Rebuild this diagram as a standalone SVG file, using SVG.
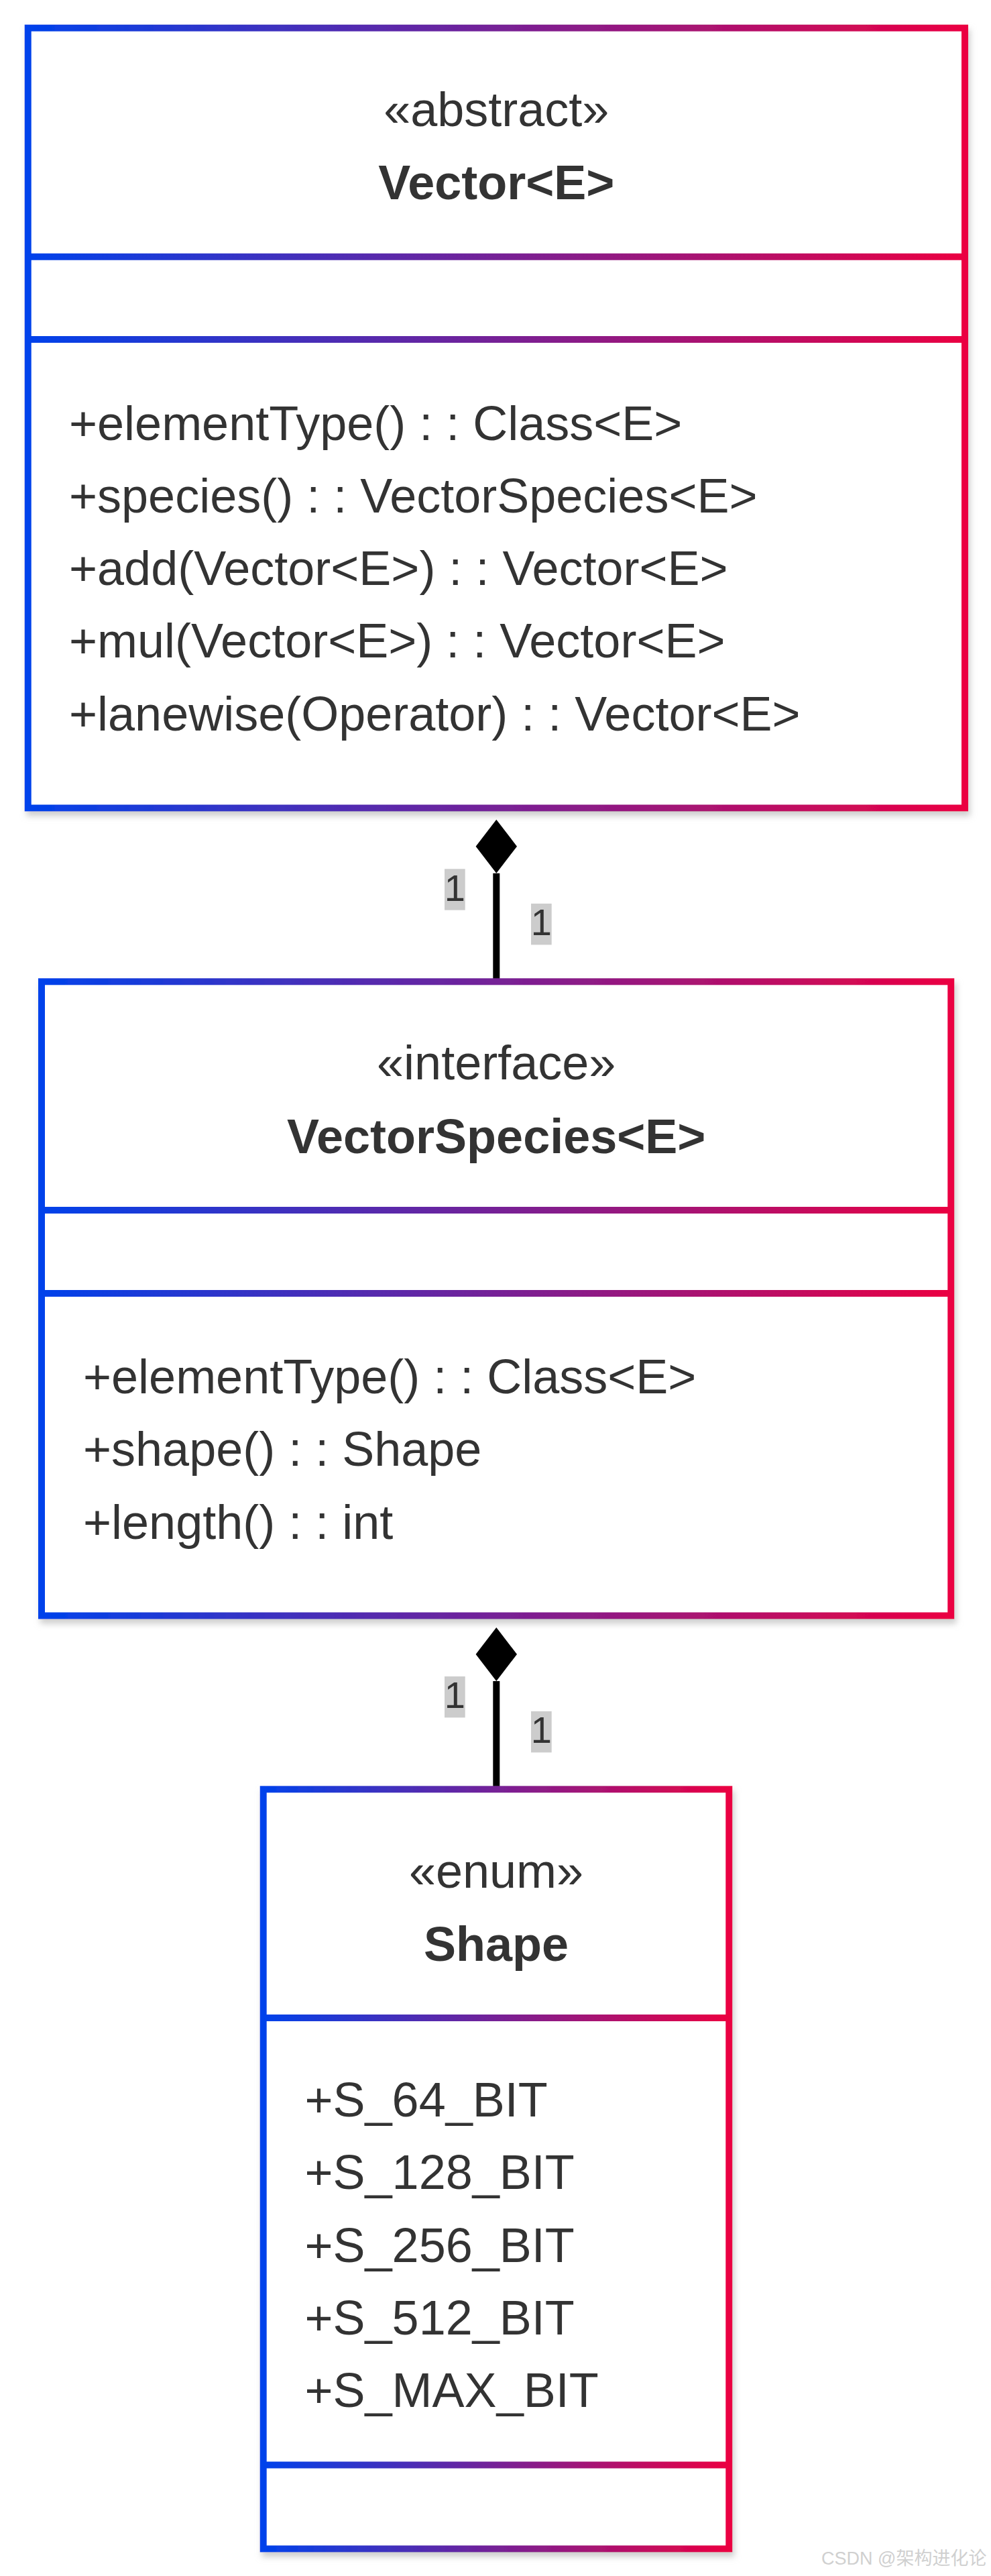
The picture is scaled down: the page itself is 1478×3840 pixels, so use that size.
<svg xmlns="http://www.w3.org/2000/svg" width="1478" height="3840" viewBox="0 0 1478 3840">
  <style>
    .box { fill: #ffffff; stroke-width: 10; filter: url(#sh); }
    .div { stroke-width: 10; fill: none; }
    .t { font-family: "Liberation Sans", Arial, Helvetica, sans-serif; font-size: 72px; fill: #333333; }
    .c { text-anchor: middle; }
    .b { font-weight: bold; }
    .edge { stroke: #000000; stroke-width: 10; fill: none; }
    .lblbg { fill: #cccccc; }
    .lbl { font-family: "Liberation Sans", Arial, Helvetica, sans-serif; font-size: 56px; fill: #333333; text-anchor: middle; }
    .wm { font-family: "Liberation Sans", Arial, "Noto Sans CJK SC", sans-serif; font-size: 27px; fill: #d0d0d0; }
  </style>
  <defs>
    <linearGradient id="g1" gradientUnits="userSpaceOnUse" x1="41.7" y1="0" x2="1439" y2="0">
      <stop offset="0" stop-color="#0042eb"/>
      <stop offset="1" stop-color="#eb0042"/>
    </linearGradient>
    <linearGradient id="g2" gradientUnits="userSpaceOnUse" x1="62" y1="0" x2="1418.3" y2="0">
      <stop offset="0" stop-color="#0042eb"/>
      <stop offset="1" stop-color="#eb0042"/>
    </linearGradient>
    <linearGradient id="g3" gradientUnits="userSpaceOnUse" x1="392.7" y1="0" x2="1087.3" y2="0">
      <stop offset="0" stop-color="#0042eb"/>
      <stop offset="1" stop-color="#eb0042"/>
    </linearGradient>
    <filter id="sh" x="-5%" y="-5%" width="110%" height="110%">
      <feDropShadow dx="3" dy="7" stdDeviation="5" flood-color="#b9b9b9" flood-opacity="0.7"/>
    </filter>
    <marker id="diamond" markerUnits="userSpaceOnUse" orient="auto" refX="0" refY="0" markerWidth="90" markerHeight="70" overflow="visible">
      <path d="M0,0 L40,-30.7 L80,0 L40,30.7 Z" fill="#000000"/>
    </marker>
  </defs>
  <rect width="1478" height="3840" fill="#ffffff"/>

  <g id="connectors">
    <g id="edge-vector-species">
      <path class="edge" d="M740.3,1463 L740.3,1301.7" marker-end="url(#diamond)"/>
      <rect class="lblbg" x="663" y="1295.3" width="30.7" height="61.4"/>
      <text class="lbl" x="678.3" y="1342.7">1</text>
      <rect class="lblbg" x="792" y="1347" width="30.7" height="61.4"/>
      <text class="lbl" x="807.3" y="1394.4">1</text>
    </g>
    <g id="edge-species-shape">
      <path class="edge" d="M740.3,2667 L740.3,2506" marker-end="url(#diamond)"/>
      <rect class="lblbg" x="663" y="2499" width="30.7" height="61.4"/>
      <text class="lbl" x="678.3" y="2546.4">1</text>
      <rect class="lblbg" x="792" y="2551" width="30.7" height="61.4"/>
      <text class="lbl" x="807.3" y="2598.4">1</text>
    </g>
  </g>

  <g id="Vector">
    <rect class="box" x="41.7" y="41.7" width="1397.3" height="1162.8" stroke="url(#g1)"/>
    <line class="div" x1="41.7" y1="382.7" x2="1439" y2="382.7" stroke="url(#g1)"/>
    <line class="div" x1="41.7" y1="506" x2="1439" y2="506" stroke="url(#g1)"/>
    <text class="t c" x="740.3" y="187.5">«abstract»</text>
    <text class="t c b" x="740.3" y="297">Vector&lt;E&gt;</text>
    <text class="t" x="103" y="655.5">+elementType() : : Class&lt;E&gt;</text>
    <text class="t" x="103" y="763.8">+species() : : VectorSpecies&lt;E&gt;</text>
    <text class="t" x="103" y="872.1">+add(Vector&lt;E&gt;) : : Vector&lt;E&gt;</text>
    <text class="t" x="103" y="980.4">+mul(Vector&lt;E&gt;) : : Vector&lt;E&gt;</text>
    <text class="t" x="103" y="1088.7">+lanewise(Operator) : : Vector&lt;E&gt;</text>
  </g>

  <g id="VectorSpecies">
    <rect class="box" x="62" y="1463.3" width="1356.3" height="945.2" stroke="url(#g2)"/>
    <line class="div" x1="62" y1="1804" x2="1418.3" y2="1804" stroke="url(#g2)"/>
    <line class="div" x1="62" y1="1928" x2="1418.3" y2="1928" stroke="url(#g2)"/>
    <text class="t c" x="740.2" y="1609">«interface»</text>
    <text class="t c b" x="740.2" y="1719">VectorSpecies&lt;E&gt;</text>
    <text class="t" x="124" y="2077">+elementType() : : Class&lt;E&gt;</text>
    <text class="t" x="124" y="2185.3">+shape() : : Shape</text>
    <text class="t" x="124" y="2293.6">+length() : : int</text>
  </g>

  <g id="Shape">
    <rect class="box" x="392.7" y="2667.3" width="694.6" height="1132.2" stroke="url(#g3)"/>
    <line class="div" x1="392.7" y1="3008" x2="1087.3" y2="3008" stroke="url(#g3)"/>
    <line class="div" x1="392.7" y1="3674.6" x2="1087.3" y2="3674.6" stroke="url(#g3)"/>
    <text class="t c" x="740" y="2814">«enum»</text>
    <text class="t c b" x="740" y="2923">Shape</text>
    <text class="t" x="454.5" y="3155">+S_64_BIT</text>
    <text class="t" x="454.5" y="3263.3">+S_128_BIT</text>
    <text class="t" x="454.5" y="3371.6">+S_256_BIT</text>
    <text class="t" x="454.5" y="3480">+S_512_BIT</text>
    <text class="t" x="454.5" y="3588">+S_MAX_BIT</text>
  </g>

  <text class="wm" x="1225" y="3823">CSDN @架构进化论</text>
</svg>
